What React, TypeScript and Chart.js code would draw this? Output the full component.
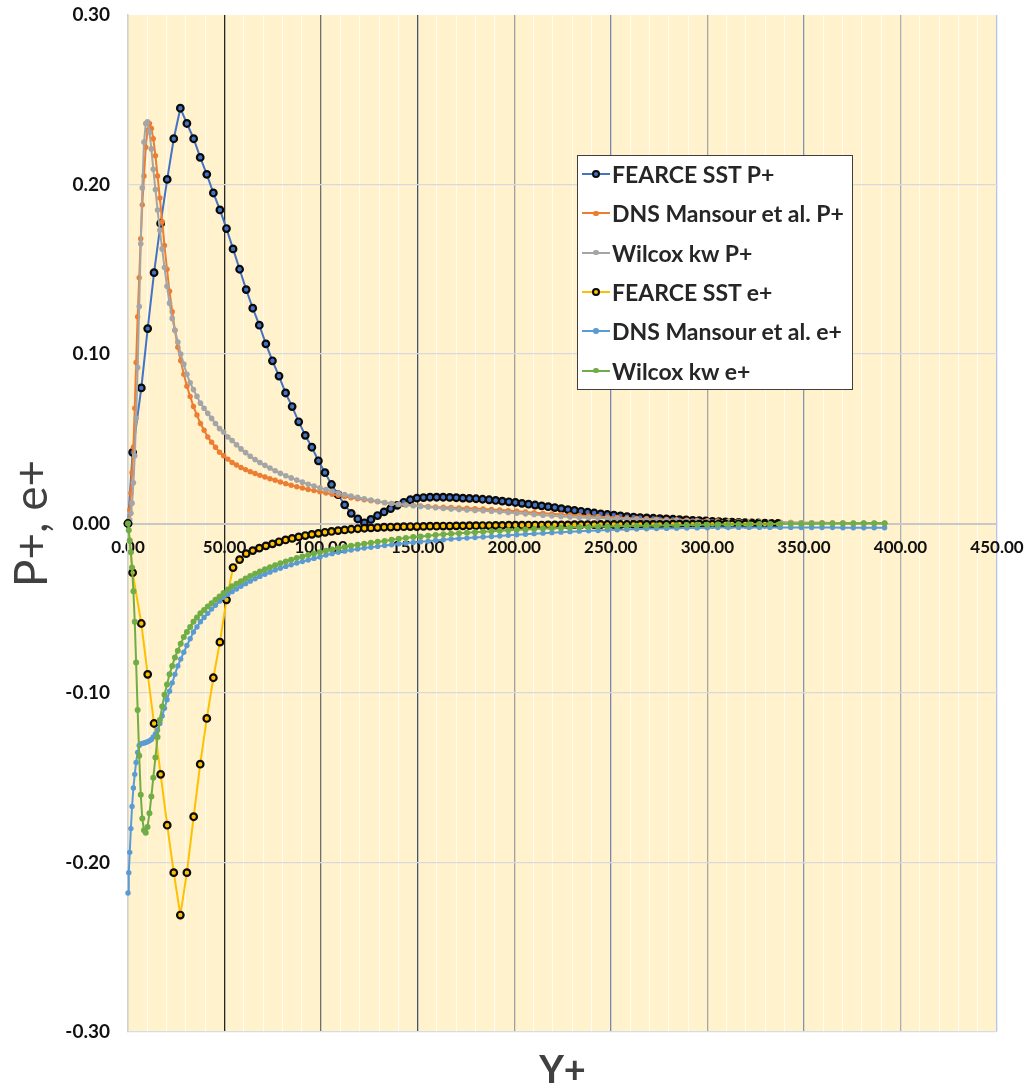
import React, { useEffect, useRef } from "react";
import { Chart, registerables } from "chart.js";

Chart.register(...registerables);

// ---------- DATA ----------
// FEARCE SST (model) wall-normal positions
const FEARCE_YPLUS = [
  0, 2.4, 6.9, 10.2, 13.5, 16.9, 20.3, 23.7, 27.1, 30.5,
  34.0, 37.4, 40.8, 44.2, 47.6, 51.0, 54.4, 57.8, 61.2, 64.6,
  68.0, 71.4, 74.8, 78.2, 81.6, 85.0, 88.4, 91.8, 95.2, 98.6,
  102.0, 105.4, 108.8, 112.2, 115.6, 119.0, 122.4, 125.8, 129.2, 132.6,
  136.0, 139.4, 142.8, 146.2, 149.6, 153.0, 156.4, 159.8, 163.2, 166.6,
  170.0, 173.4, 176.8, 180.2, 183.6, 187.0, 190.4, 193.8, 197.2, 200.6,
  204.0, 207.4, 210.8, 214.2, 217.6, 221.0, 224.4, 227.8, 231.2, 234.6,
  238.0, 241.4, 244.8, 248.2, 251.6, 255.0, 258.4, 261.8, 265.2, 268.6,
  272.0, 275.4, 278.8, 282.2, 285.6, 289.0, 292.4, 295.8, 299.2, 302.6,
  306.0, 309.4, 312.8, 316.2, 319.6, 323.0, 326.4, 329.8, 333.2, 336.6,
];

const FEARCE_P = [
  0, 0.042, 0.080, 0.115, 0.148, 0.177, 0.203, 0.227, 0.245, 0.236,
  0.227, 0.216, 0.206, 0.195, 0.185, 0.174, 0.162, 0.150, 0.138, 0.127,
  0.117, 0.106, 0.096, 0.087, 0.077, 0.069, 0.060, 0.052, 0.045, 0.037,
  0.030, 0.023, 0.017, 0.011, 0.006, 0.0027, 0.0004, 0.0024, 0.0047, 0.0068,
  0.0088, 0.0107, 0.0125, 0.014, 0.015, 0.0153, 0.0155, 0.0155, 0.0155, 0.0154,
  0.0152, 0.015, 0.0148, 0.0146, 0.0143, 0.014, 0.0136, 0.0132, 0.0128, 0.0124,
  0.0119, 0.0114, 0.0109, 0.0104, 0.0099, 0.0094, 0.0088, 0.0082, 0.0077, 0.0072,
  0.0067, 0.0062, 0.0057, 0.0053, 0.0049, 0.0045, 0.0041, 0.0038, 0.0035, 0.0033,
  0.0031, 0.0029, 0.0027, 0.0025, 0.0023, 0.0021, 0.0019, 0.0017, 0.0015, 0.0013,
  0.0011, 0.0009, 0.0008, 0.0006, 0.0005, 0.0004, 0.0003, 0.0002, 0.0001, 0.0,
];

const FEARCE_E = [
  0, -0.029, -0.059, -0.089, -0.118, -0.148, -0.178, -0.206, -0.231, -0.206,
  -0.173, -0.142, -0.115, -0.091, -0.070, -0.045, -0.026, -0.0213, -0.0178, -0.016,
  -0.0145, -0.0132, -0.012, -0.0108, -0.0097, -0.0088, -0.0079, -0.0071, -0.0064, -0.0058,
  -0.0052, -0.0047, -0.0042, -0.0038, -0.0034, -0.0031, -0.0028, -0.0026, -0.0024, -0.0022,
  -0.0021, -0.002, -0.0019, -0.0018, -0.0018, -0.0017, -0.0016, -0.0016, -0.0015, -0.0015,
  -0.0014, -0.0014, -0.0013, -0.0013, -0.0012, -0.0012, -0.0011, -0.0011, -0.001, -0.001,
  -0.001, -0.0009, -0.0009, -0.0009, -0.0008, -0.0008, -0.0008, -0.0008, -0.0007, -0.0007,
  -0.0007, -0.0007, -0.0006, -0.0006, -0.0006, -0.0006, -0.0006, -0.0005, -0.0005, -0.0005,
  -0.0005, -0.0005, -0.0005, -0.0004, -0.0004, -0.0004, -0.0004, -0.0004, -0.0004, -0.0004,
  -0.0003, -0.0003, -0.0003, -0.0003, -0.0003, -0.0003, -0.0003, -0.0003, -0.0003, -0.0003,
];

// DNS (Mansour et al.) and Wilcox k-w wall-normal positions
const REF_YPLUS = [
  0, 0.4, 0.9, 1.5, 2.1, 2.8, 3.5, 4.2, 5.0, 5.8,
  6.6, 7.4, 8.3, 9.2, 10.1, 11.1, 12.1, 13.1, 14.2, 15.3,
  16.5, 17.7, 18.9, 20.2, 21.5, 22.9, 24.3, 25.8, 27.3, 28.9,
  30.5, 32.2, 33.9, 35.7, 37.5, 39.4, 41.3, 43.3, 45.3, 47.4,
  49.5, 51.7, 53.9, 56.2, 58.5, 60.9, 63.3, 65.8, 68.3, 70.9,
  73.5, 76.2, 78.9, 81.7, 84.5, 87.4, 90.3, 93.3, 96.3, 99.4,
  102.5, 105.7, 108.9, 112.2, 115.5, 118.9, 122.3, 125.8, 129.3, 132.9,
  136.5, 140.2, 143.9, 147.7, 151.5, 155.4, 159.3, 163.3, 167.3, 171.4,
  175.5, 179.7, 183.9, 188.2, 192.5, 196.9, 201.3, 205.8, 210.3, 214.9,
  219.5, 224.2, 228.9, 233.7, 238.5, 243.4, 248.3, 253.3, 258.3, 263.4,
  268.5, 273.7, 278.9, 284.1, 289.4, 294.7, 300.0, 305.4, 310.8, 316.2,
  321.6, 327.0, 332.4, 337.8, 343.2, 348.6, 354.0, 359.4, 364.8, 370.2,
  375.6, 381.0, 386.4, 391.8,
];

const DNS_P = [
  0, 0.002, 0.008, 0.018, 0.030, 0.045, 0.068, 0.095, 0.122, 0.145,
  0.168, 0.188, 0.205, 0.222, 0.232, 0.236, 0.233, 0.227, 0.217, 0.205,
  0.192, 0.178, 0.164, 0.150, 0.137, 0.125, 0.114, 0.104, 0.096, 0.088,
  0.081, 0.075, 0.069, 0.064, 0.059, 0.055, 0.051, 0.048, 0.045, 0.042,
  0.040, 0.038, 0.036, 0.0345, 0.033, 0.0318, 0.0306, 0.0295, 0.0284, 0.0274,
  0.0264, 0.0255, 0.0245, 0.0235, 0.0226, 0.0217, 0.0209, 0.0201, 0.0194, 0.0187,
  0.018, 0.0173, 0.0166, 0.0159, 0.0152, 0.0146, 0.014, 0.0134, 0.0128, 0.0123,
  0.0118, 0.0114, 0.011, 0.0107, 0.0104, 0.0101, 0.0098, 0.0096, 0.0094, 0.0092,
  0.009, 0.0088, 0.0086, 0.0083, 0.008, 0.0076, 0.0072, 0.0068, 0.0064, 0.006,
  0.0057, 0.0053, 0.005, 0.0047, 0.0044, 0.0041, 0.0038, 0.0035, 0.0032, 0.003,
  0.0028, 0.0026, 0.0024, 0.0022, 0.002, 0.0018, 0.0017, 0.0015, 0.0013, 0.0012,
  0.0011, 0.0009, 0.0008, 0.0007, 0.0006, 0.0005, 0.0004, 0.0004, 0.0003, 0.0003,
  0.0002, 0.0002, 0.0001, 0.0001,
];

const WILCOX_P = [
  0, 0.0005, 0.002, 0.006, 0.012, 0.024, 0.040, 0.062, 0.092, 0.128,
  0.165, 0.198, 0.225, 0.236, 0.237, 0.231, 0.221, 0.209, 0.197, 0.185,
  0.173, 0.162, 0.151, 0.140, 0.130, 0.121, 0.114, 0.107, 0.100, 0.094,
  0.088, 0.083, 0.079, 0.075, 0.071, 0.068, 0.065, 0.062, 0.059, 0.056,
  0.054, 0.051, 0.049, 0.0465, 0.044, 0.0418, 0.0397, 0.0378, 0.036, 0.0343,
  0.0327, 0.0311, 0.0296, 0.0282, 0.0269, 0.0256, 0.0244, 0.0232, 0.0221, 0.021,
  0.02, 0.019, 0.018, 0.0171, 0.0162, 0.0154, 0.0146, 0.0138, 0.0131, 0.0124,
  0.0118, 0.0113, 0.0109, 0.0105, 0.0101, 0.0097, 0.0093, 0.0089, 0.0086, 0.0083,
  0.008, 0.0077, 0.0075, 0.0072, 0.0069, 0.0065, 0.0061, 0.0057, 0.0053, 0.0049,
  0.0045, 0.0042, 0.0039, 0.0036, 0.0034, 0.0032, 0.003, 0.0028, 0.0026, 0.0024,
  0.0022, 0.002, 0.0019, 0.0017, 0.0016, 0.0015, 0.0013, 0.0012, 0.0011, 0.001,
  0.0009, 0.0008, 0.0007, 0.0006, 0.0005, 0.0004, 0.0004, 0.0003, 0.0003, 0.0002,
  0.0002, 0.0001, 0.0001, 0.0001,
];

const DNS_E = [
  -0.218, -0.206, -0.194, -0.180, -0.167, -0.156, -0.148, -0.141, -0.135, -0.131,
  -0.13, -0.1297, -0.1295, -0.1292, -0.1288, -0.1282, -0.1274, -0.126, -0.1242, -0.1218,
  -0.118, -0.1135, -0.109, -0.104, -0.099, -0.094, -0.089, -0.084, -0.08, -0.076,
  -0.072, -0.068, -0.064, -0.061, -0.058, -0.0555, -0.053, -0.0505, -0.0482, -0.0458,
  -0.0435, -0.0418, -0.0402, -0.0386, -0.037, -0.0355, -0.034, -0.0326, -0.0312, -0.0299,
  -0.0287, -0.0275, -0.0264, -0.0253, -0.0243, -0.0233, -0.0224, -0.0215, -0.0206, -0.0198,
  -0.0186, -0.0178, -0.017, -0.0163, -0.0157, -0.0151, -0.0145, -0.014, -0.0135, -0.013,
  -0.0125, -0.012, -0.0116, -0.0112, -0.0108, -0.0104, -0.01, -0.0096, -0.0092, -0.0089,
  -0.0086, -0.0083, -0.008, -0.0077, -0.0074, -0.007, -0.0066, -0.0063, -0.006, -0.0057,
  -0.0054, -0.0051, -0.0048, -0.0045, -0.0043, -0.0041, -0.0039, -0.0037, -0.0035, -0.0033,
  -0.0031, -0.003, -0.0029, -0.0028, -0.0027, -0.0026, -0.0025, -0.0024, -0.0024, -0.0023,
  -0.0023, -0.0023, -0.0023, -0.0023, -0.0023, -0.0024, -0.0024, -0.0024, -0.0024, -0.0025,
  -0.0025, -0.0025, -0.0025, -0.0025,
];

const WILCOX_E = [
  0, -0.004, -0.01, -0.017, -0.026, -0.04, -0.058, -0.082, -0.11, -0.137,
  -0.16, -0.174, -0.181, -0.1825, -0.179, -0.171, -0.161, -0.15, -0.138, -0.126,
  -0.116, -0.108, -0.101, -0.095, -0.089, -0.084, -0.079, -0.075, -0.071, -0.067,
  -0.064, -0.061, -0.058, -0.0555, -0.053, -0.051, -0.049, -0.047, -0.045, -0.043,
  -0.041, -0.039, -0.037, -0.0355, -0.034, -0.0325, -0.031, -0.0296, -0.0283, -0.027,
  -0.0258, -0.0246, -0.0235, -0.0224, -0.0214, -0.0204, -0.0195, -0.0186, -0.0177, -0.0169,
  -0.0161, -0.0153, -0.0146, -0.0139, -0.0132, -0.0126, -0.012, -0.0114, -0.0108, -0.0103,
  -0.0096, -0.009, -0.0085, -0.008, -0.0076, -0.0072, -0.0068, -0.0064, -0.0061, -0.0058,
  -0.0055, -0.0052, -0.0049, -0.0046, -0.0043, -0.004, -0.0037, -0.0035, -0.0032, -0.003,
  -0.0028, -0.0026, -0.0024, -0.0022, -0.002, -0.0018, -0.0017, -0.0016, -0.0015, -0.0014,
  -0.0013, -0.0012, -0.0011, -0.001, -0.0009, -0.0008, -0.0007, -0.0006, -0.0005, -0.0005,
  -0.0004, -0.0003, -0.0003, -0.0002, -0.0002, -0.0001, -0.0001, 0, 0, 0,
  0, 0.0001, 0.0001, 0.0002,
];

const SERIES_NAMES = [
  "FEARCE SST P+",
  "DNS Mansour et al. P+",
  "Wilcox kw P+",
  "FEARCE SST e+",
  "DNS Mansour et al. e+",
  "Wilcox kw e+",
];

const X_AXIS_TITLE = "Y+";
const Y_AXIS_TITLE = "P+, e+";

// ---------- STYLE ----------
const FONT = "Lato, 'Open Sans', sans-serif";
const PLOT_BG = "#FFF2CC";

type SeriesStyle = {
  color: string;
  radius: number;
  ring: boolean;
};

const STYLES: SeriesStyle[] = [
  { color: "#4472C4", radius: 3.3, ring: true },
  { color: "#ED7D31", radius: 2.7, ring: false },
  { color: "#A5A5A5", radius: 2.8, ring: false },
  { color: "#FFC000", radius: 3.3, ring: true },
  { color: "#5B9BD5", radius: 2.7, ring: false },
  { color: "#70AD47", radius: 3.0, ring: false },
];

const MAJOR_GRID_COLORS: Record<number, string> = {
  0: "#CFCFCF",
  50: "#262626",
  100: "#707070",
  150: "#44546A",
  200: "#A0A0A0",
  250: "#7888B0",
  300: "#A6A6A6",
  350: "#8497B0",
  400: "#AEAEB8",
  450: "#B4C6E7",
};

function pairs(xs: number[], ys: number[]) {
  const n = Math.min(xs.length, ys.length);
  const out: { x: number; y: number }[] = [];
  for (let i = 0; i < n; i++) out.push({ x: xs[i], y: ys[i] });
  return out;
}

const plotBackground = {
  id: "plotBackground",
  beforeDraw(chart: any) {
    const { ctx, chartArea } = chart;
    if (!chartArea) return;
    ctx.save();
    ctx.fillStyle = PLOT_BG;
    ctx.fillRect(
      chartArea.left,
      chartArea.top,
      chartArea.right - chartArea.left,
      chartArea.bottom - chartArea.top
    );
    ctx.restore();
  },
};

export default function App() {
  const canvasRef = useRef<HTMLCanvasElement | null>(null);

  useEffect(() => {
    if (!canvasRef.current) return;
    const seriesData = [
      pairs(FEARCE_YPLUS, FEARCE_P),
      pairs(REF_YPLUS, DNS_P),
      pairs(REF_YPLUS, WILCOX_P),
      pairs(FEARCE_YPLUS, FEARCE_E),
      pairs(REF_YPLUS, DNS_E),
      pairs(REF_YPLUS, WILCOX_E),
    ];
    const datasets = seriesData.map((d, i) => {
      const s = STYLES[i];
      return {
        label: SERIES_NAMES[i],
        data: d,
        showLine: true,
        borderColor: s.color,
        borderWidth: 2,
        backgroundColor: s.color,
        pointRadius: s.radius,
        pointHoverRadius: s.radius,
        pointBackgroundColor: s.color,
        pointBorderColor: s.ring ? "#0A0A0A" : s.color,
        pointBorderWidth: s.ring ? 2.2 : 0,
        tension: 0,
        clip: 8,
        order: SERIES_NAMES.length - i,
      };
    });

    const chart = new Chart(canvasRef.current, {
      type: "scatter",
      data: { datasets },
      plugins: [plotBackground],
      options: {
        responsive: false,
        animation: false,
        devicePixelRatio: 1,
        layout: { padding: { top: 15, right: 31, bottom: 1, left: 0 } },
        plugins: {
          legend: { display: false },
          tooltip: { enabled: false },
          title: {
            display: true,
            text: X_AXIS_TITLE,
            position: "bottom",
            fullSize: false,
            color: "#404040",
            font: { family: FONT, size: 38, weight: "bold", lineHeight: 1 },
            padding: { top: 20, bottom: 0 },
          },
        },
        scales: {
          x: {
            type: "linear",
            axis: "x",
            position: { y: 0 },
            min: 0,
            max: 450,
            afterFit: (s: any) => {
              s.height = 0;
              s.paddingLeft = 0;
              s.paddingRight = 0;
            },
            ticks: {
              stepSize: 10,
              autoSkip: false,
              maxRotation: 0,
              padding: 14,
              color: "#111111",
              font: { family: FONT, size: 17, weight: "bold" },
              callback: (v: any) => {
                const n = Number(v);
                return Math.abs(n % 50) < 1e-9 ? n.toFixed(2) : "";
              },
            },
            grid: {
              drawTicks: false,
              color: (c: any) => {
                const v = Math.round(c.tick ? c.tick.value : 0);
                if (v % 50 === 0) return MAJOR_GRID_COLORS[v] || "#A6A6A6";
                return "rgba(255,255,255,0.75)";
              },
              lineWidth: (c: any) => {
                const v = Math.round(c.tick ? c.tick.value : 0);
                return v % 50 === 0 ? 1.3 : 1;
              },
            },
            border: { display: true, color: "#C8C8C8", width: 2 },
            title: { display: false },
          },
          y: {
            type: "linear",
            position: "left",
            min: -0.3,
            max: 0.3,
            afterFit: (s: any) => {
              s.width = 128;
              s.paddingTop = 0;
              s.paddingBottom = 0;
            },
            ticks: {
              stepSize: 0.1,
              padding: 18,
              color: "#111111",
              font: { family: FONT, size: 19, weight: "bold" },
              callback: (v: any) => Number(v).toFixed(2),
            },
            grid: {
              drawTicks: false,
              color: (c: any) => {
                const v = c.tick ? Math.round(c.tick.value * 10) : 0;
                if (v === 0 || v === 3) return "rgba(0,0,0,0)";
                if (v === -3) return "#D6DCE5";
                return "#D9D9D9";
              },
              lineWidth: 1.3,
            },
            border: { display: true, color: "#D0D0D0", width: 1.5 },
            title: {
              display: true,
              text: Y_AXIS_TITLE,
              color: "#404040",
              font: { family: FONT, size: 46, weight: "normal", lineHeight: 1.2 },
              padding: { top: 5, bottom: 0 },
            },
          },
        },
      },
    } as any);
    return () => chart.destroy();
  }, []);

  const legendTop = 155;
  const legendLeft = 577;
  const rowGap = 39.3;

  return (
    <div
      style={{
        position: "absolute",
        left: 0,
        top: 0,
        width: 1028,
        height: 1091,
        background: "#FFFFFF",
        overflow: "hidden",
      }}
    >
      <canvas
        ref={canvasRef}
        width={1028}
        height={1091}
        style={{ position: "absolute", left: 0, top: 0, width: 1028, height: 1091 }}
      />
      <div
        style={{
          position: "absolute",
          left: legendLeft,
          top: legendTop,
          width: 274,
          height: 233,
          border: "1.5px solid #3F3F3F",
          background: "#FFFFFF",
        }}
      >
        {SERIES_NAMES.map((name, i) => {
          const s = STYLES[i];
          const cy = 18 + rowGap * i;
          const mr = s.ring ? 4.2 : 2.8;
          return (
            <div key={name}>
              <div
                style={{
                  position: "absolute",
                  left: 4,
                  top: cy - 1,
                  width: 28,
                  height: 2,
                  background: s.color,
                }}
              />
              <div
                style={{
                  position: "absolute",
                  left: 18 - mr,
                  top: cy - mr,
                  width: mr * 2,
                  height: mr * 2,
                  boxSizing: "border-box",
                  borderRadius: "50%",
                  background: s.color,
                  border: s.ring ? "2px solid #0A0A0A" : "none",
                }}
              />
              <div
                style={{
                  position: "absolute",
                  left: 34,
                  top: cy - 20,
                  height: 40,
                  lineHeight: "40px",
                  whiteSpace: "nowrap",
                  fontFamily: FONT,
                  fontWeight: 700,
                  fontSize: 23,
                  color: "#262626",
                }}
              >
                {name}
              </div>
            </div>
          );
        })}
      </div>
    </div>
  );
}
